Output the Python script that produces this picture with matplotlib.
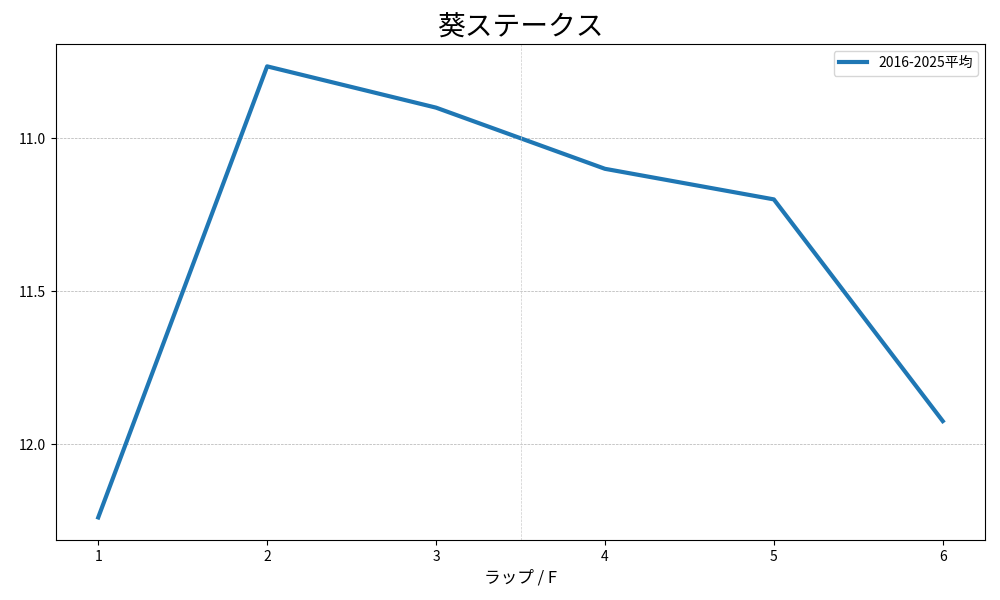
import matplotlib
matplotlib.use('Agg')
from matplotlib import pyplot as plt

plt.rcParams['font.family'] = ['Noto Sans CJK JP', 'DejaVu Sans']

laps = [1, 2, 3, 4, 5, 6]
avg_times = [12.24, 10.765, 10.90, 11.10, 11.20, 11.925]
series_label = '2016-2025平均'
title = '葵ステークス'
xlabel = 'ラップ / F'

#%%
fig, ax = plt.subplots(figsize=(10, 6), dpi=100)
fig.subplots_adjust(left=0.056, right=0.985, top=0.927, bottom=0.1)

ax.plot(laps, avg_times, color='#1f77b4', linewidth=3, label=series_label)
ax.invert_yaxis()
ax.set_xticks(laps)
ax.set_yticks([11.0, 11.5, 12.0])
ax.grid(axis='y', linestyle='--', linewidth=0.5, color='#b0b0b0')
ax.axvline(3.5, linestyle='--', linewidth=0.5, color='#cccccc')

ax.set_title(title, fontsize=20)
ax.set_xlabel(xlabel, fontsize=12)
ax.legend(loc='upper right')

plt.savefig('out.png', dpi=100)
